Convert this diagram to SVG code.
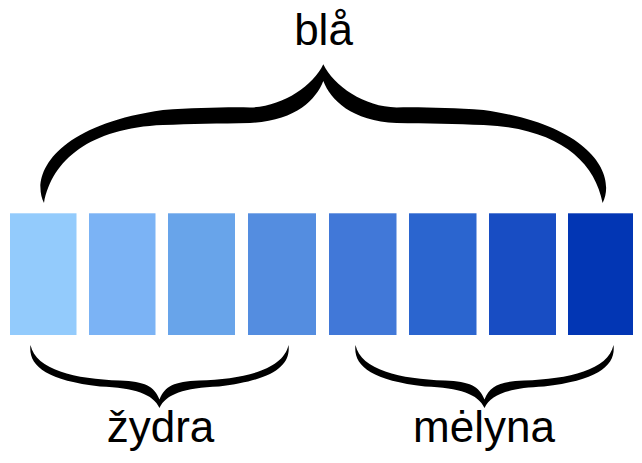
<svg xmlns="http://www.w3.org/2000/svg" xmlns:xlink="http://www.w3.org/1999/xlink" width="642" height="463" viewBox="0 0 642 463">
<style>
.lbl{font-family:"Liberation Sans",Arial,sans-serif;font-size:44px;fill:#000;text-anchor:middle}
.brace{fill:#000;stroke:none}
</style>
<defs>
<path id="smallBrace" d="M30.5,345 C28,365 45,380 100,386.5 C135,388 153,394 159.5,408 C166,394 184,388 219,386.5 C274,380 291,365 288.5,345 C283,370 244,379 199,380.5 C174,381.5 165,386 159.5,399.5 C154,386 145,381.5 120,380.5 C75,379 36,370 30.5,345 Z"/>
</defs>
<rect width="642" height="463" fill="#fff"/>
<g id="swatches">
<rect id="s1" x="10" y="213.3" width="66.5" height="121.7" fill="#93CBFC"/>
<rect id="s2" x="89" y="213.3" width="66.5" height="121.7" fill="#7BB3F5"/>
<rect id="s3" x="168" y="213.3" width="67" height="121.7" fill="#68A4EA"/>
<rect id="s4" x="248" y="213.3" width="68" height="121.7" fill="#548DE0"/>
<rect id="s5" x="329" y="213.3" width="67.5" height="121.7" fill="#4178D8"/>
<rect id="s6" x="409" y="213.3" width="67.5" height="121.7" fill="#2B65CF"/>
<rect id="s7" x="489" y="213.3" width="67" height="121.7" fill="#184DC3"/>
<rect id="s8" x="568" y="213.3" width="65" height="121.7" fill="#0236B4"/>
</g>
<g id="connectors">
<path id="brace-bla" class="brace" d="M44,203 C30,175 55,125 163,110 C195,108 225,107 250,107.5 C282,107 313,86 323.3,64.3 C333.6,86 364.6,107 396.6,107.5 C421.6,107 451.6,108 483.6,110 C591.6,125 616.6,175 602.6,203 C594.6,160 556.6,128 483.6,125 C456.6,124 426.6,123.5 396.6,123 C351.6,121 330.6,100 323.3,81 C316,100 295,121 250,123 C220,123.5 190,124 163,125 C90,128 52,160 44,203 Z"/>
<use id="brace-zydra" class="brace" xlink:href="#smallBrace" href="#smallBrace"/>
<use id="brace-melyna" class="brace" xlink:href="#smallBrace" href="#smallBrace" transform="translate(325,0)"/>
</g>
<g id="label-bla"><text class="lbl" x="323.5" y="45">blå</text></g>
<g id="label-zydra"><text class="lbl" x="160.5" y="442">žydra</text></g>
<g id="label-melyna"><text class="lbl" x="484" y="442">mėlyna</text></g>
</svg>
